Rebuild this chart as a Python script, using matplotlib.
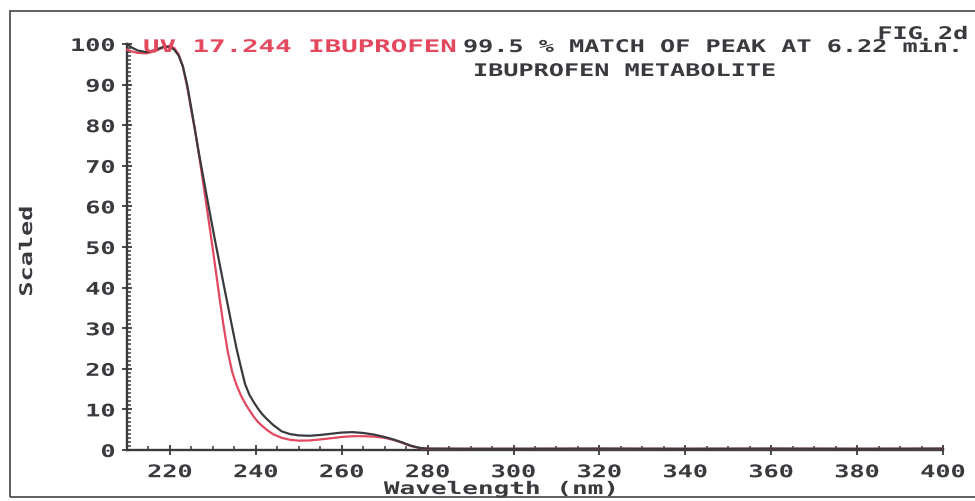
import matplotlib
matplotlib.use("Agg")
import matplotlib.pyplot as plt
import matplotlib.patheffects as pe
from matplotlib.transforms import Affine2D
from matplotlib.patches import Rectangle
from matplotlib.ticker import MultipleLocator

# spectrum of the metabolite peak (black) and the library ibuprofen UV (red)
wl_black = [210, 211, 212.5, 214.5, 216.5, 218.5, 220, 221, 222, 223, 224, 225,
            225.8, 226.5, 227.5, 228.5, 229.5, 230.5, 231.5, 232.5, 233.5, 234.5,
            235.5, 236.5, 237.5, 238.5, 239.5, 240.5, 241.5, 242.5, 244, 246, 248,
            250, 252.5, 255, 257.5, 260, 262.5, 265, 267.5, 270, 272, 274, 276,
            278, 280, 290, 300, 320, 340, 360, 380, 400]
val_black = [100, 99.2, 98.4, 98.0, 98.5, 99.3, 99.3, 98.6, 97.2, 94.5, 90, 84,
             79, 74.5, 68.7, 62.9, 57.2, 51.6, 46.2, 40.8, 35.5, 30.2,
             25.0, 20.5, 16.2, 13.6, 11.8, 10.2, 8.8, 7.7, 6.2, 4.6, 3.9,
             3.6, 3.5, 3.7, 4.0, 4.3, 4.4, 4.2, 3.8, 3.2, 2.6, 1.9, 1.1,
             0.55, 0.35, 0.3, 0.3, 0.35, 0.3, 0.35, 0.3, 0.35]

wl_red = [210, 211, 212.5, 214.5, 216.5, 218.5, 220, 221, 222, 223, 224, 225,
          225.8, 226.5, 227.5, 228.5, 229.5, 230.5, 231.5, 232.5, 233.5, 234.5,
          235.5, 236.5, 237.5, 238.5, 239.5, 240.5, 241.5, 242.5, 244, 246, 248,
          250, 252.5, 255, 257.5, 260, 262.5, 265, 267.5, 270, 272, 274, 276,
          278, 280, 290, 300, 320, 340, 360, 380, 400]
val_red = [98.6, 98.2, 97.8, 97.7, 98.2, 99.2, 99.6, 99.0, 97.5, 94.5, 89.5, 83.5,
           79, 74.5, 67.5, 60.3, 53.0, 45.5, 37.8, 30.5, 24.0, 19.2,
           16.0, 13.5, 11.5, 9.8, 8.2, 6.9, 5.9, 5.0, 3.9, 3.0, 2.5,
           2.3, 2.35, 2.6, 2.9, 3.2, 3.4, 3.4, 3.3, 3.0, 2.5, 1.8, 1.0,
           0.5, 0.3, 0.3, 0.3, 0.3, 0.3, 0.3, 0.3, 0.3]

x_ticks = [220, 240, 260, 280, 300, 320, 340, 360, 380, 400]
y_ticks = [0, 10, 20, 30, 40, 50, 60, 70, 80, 90, 100]

INK = "#3a3a3e"
RED = "#e4485f"
W, H = 975, 502


class Stretch(pe.AbstractPathEffect):
    # widen glyphs like the old plotter font
    def __init__(self, sx, anchor="center"):
        super().__init__()
        self.sx = sx
        self.anchor = anchor

    def draw_path(self, renderer, gc, tpath, affine, rgbFace=None):
        ext = tpath.get_extents()
        if self.anchor == "left":
            x0 = 0
        elif self.anchor == "right":
            x0 = ext.x1
        else:
            x0 = (ext.x0 + ext.x1) / 2
        t = Affine2D().translate(-x0, 0).scale(self.sx, 1).translate(x0, 0)
        renderer.draw_path(gc, tpath, Affine2D(affine.get_matrix() @ t.get_matrix()), rgbFace)


SX = 1.45
font = dict(family="DejaVu Sans Mono", weight="bold", size=12.5)

fig = plt.figure(figsize=(W / 100, H / 100), dpi=100)
ax = fig.add_axes([127 / W, 1 - 451 / H, (943 - 127) / W, (451 - 45) / H])

ax.plot(wl_red, val_red, color=RED, lw=1.6, clip_on=False, zorder=3)
ax.plot(wl_black, val_black, color=INK, lw=1.6, clip_on=False, zorder=4)

ax.set_xlim(210, 400)
ax.set_ylim(0, 100)
for s in ["top", "right"]:
    ax.spines[s].set_visible(False)
for s in ["left", "bottom"]:
    ax.spines[s].set_color(INK)
    ax.spines[s].set_linewidth(1.7)

ax.set_xticks(x_ticks)
ax.set_yticks(y_ticks)
ax.xaxis.set_minor_locator(MultipleLocator(5))
ax.yaxis.set_minor_locator(MultipleLocator(1))
ax.tick_params(which="major", direction="inout", length=7, width=1.3, color=INK,
               labelcolor=INK)
ax.tick_params(which="minor", direction="in", length=3, width=1.1, color=INK)
ax.tick_params(axis="x", which="major", pad=6)
ax.tick_params(axis="y", which="major", pad=5)

for lbl in ax.get_xticklabels():
    lbl.set_fontproperties(matplotlib.font_manager.FontProperties(**font))
    lbl.set_path_effects([Stretch(SX, "center")])
for lbl in ax.get_yticklabels():
    lbl.set_fontproperties(matplotlib.font_manager.FontProperties(**font))
    lbl.set_path_effects([Stretch(SX, "right")])

ax.set_xlabel("Wavelength (nm)", color=INK, va="center", **font,
              path_effects=[Stretch(SX + 0.05, "center")])
ax.xaxis.set_label_coords((501 - 127) / 816, (451 - 490) / 406)
ax.set_ylabel("Scaled", color=INK, va="center", **font,
              path_effects=[Stretch(SX, "center")])
ax.yaxis.set_label_coords((27 - 127) / 816, (451 - 252) / 406)


def px(x, y):
    return x / W, 1 - y / H


fig.text(*px(143, 48), "UV 17.244 IBUPROFEN", color=RED, ha="left", va="center",
         zorder=1, path_effects=[Stretch(1.58, "left")], **font)
fig.text(*px(463, 48), "99.5 % MATCH OF PEAK AT 6.22 min.", color=INK, ha="left",
         va="center", path_effects=[Stretch(SX, "left")], **font)
fig.text(*px(473, 72), "IBUPROFEN METABOLITE", color=INK, ha="left", va="center",
         path_effects=[Stretch(SX, "left")], **font)
fig.text(*px(968, 35), "FIG 2d", color=INK, ha="right", va="center",
         path_effects=[Stretch(SX, "right")], **font)

# page frame
fig.add_artist(Rectangle(px(10, 498), 1.0, (498 - 12) / H, transform=fig.transFigure,
                         fill=False, edgecolor="#444444", lw=1.2, clip_on=False))

fig.savefig("out.png", dpi=100)
